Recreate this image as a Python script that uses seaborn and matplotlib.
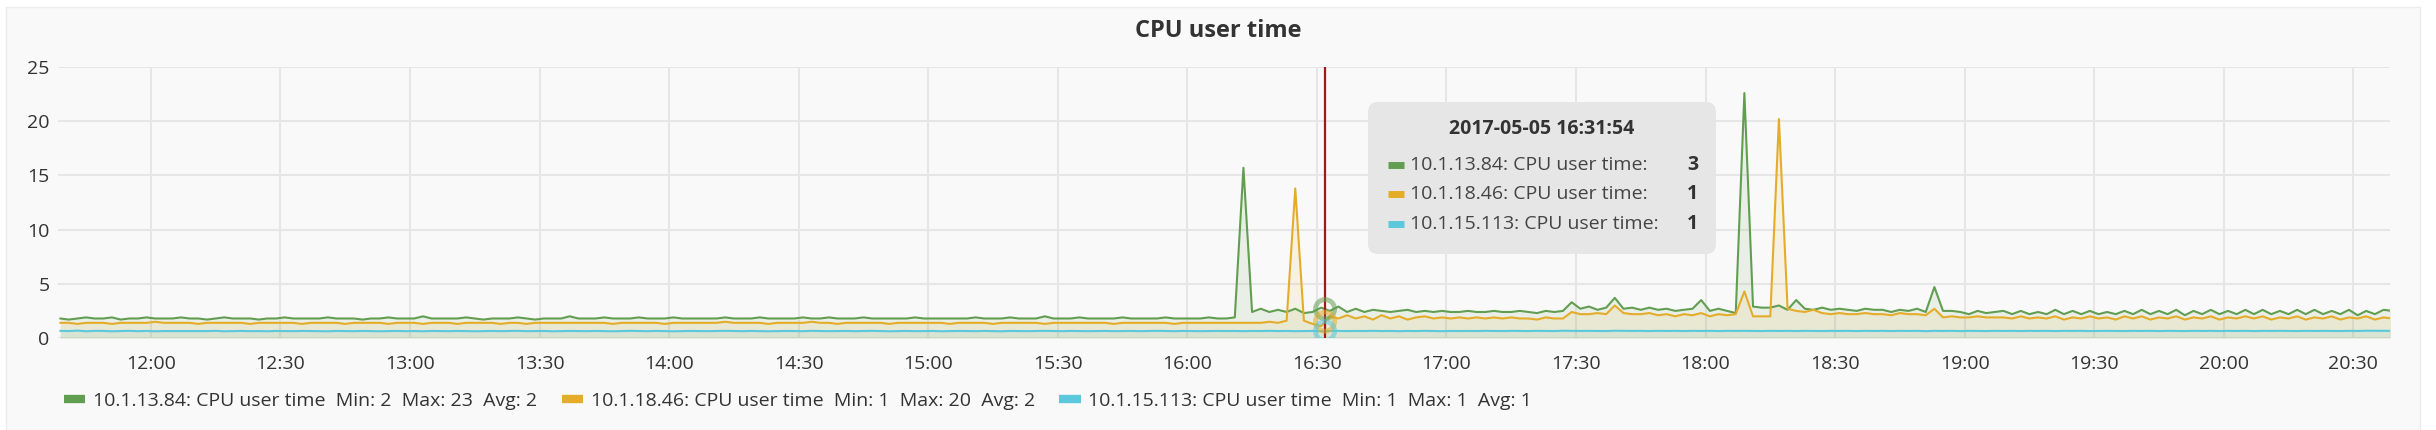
import matplotlib
matplotlib.use('Agg')
import numpy as np
import pandas as pd
import matplotlib.pyplot as plt
import matplotlib.dates as mdates
from matplotlib.patches import FancyBboxPatch, Rectangle
from matplotlib.lines import Line2D
import seaborn as sns

sns.set_style('whitegrid')
plt.rcParams['font.family'] = ['Open Sans', 'DejaVu Sans']

# --- data (one sample every 2 minutes, starting 11:39) ---
start_time = '2017-05-05 11:39'
hover_time = '2017-05-05 16:31:54'

series_names = ['10.1.13.84: CPU user time', '10.1.18.46: CPU user time', '10.1.15.113: CPU user time']
legend_labels = ['10.1.13.84: CPU user time  Min: 2  Max: 23  Avg: 2',
                 '10.1.18.46: CPU user time  Min: 1  Max: 20  Avg: 2',
                 '10.1.15.113: CPU user time  Min: 1  Max: 1  Avg: 1']
tooltip_values = ['3', '1', '1']
colors = ['#629e51', '#e5ac2a', '#5bc8dc']

green = [
    1.8, 1.7, 1.8, 1.9, 1.8, 1.8, 1.9, 1.7, 1.8, 1.8, 1.9, 1.8, 1.8, 1.8, 1.9,
    1.8, 1.8, 1.7, 1.8, 1.9, 1.8, 1.8, 1.8, 1.7, 1.8, 1.8, 1.9, 1.8, 1.8, 1.8,
    1.8, 1.9, 1.8, 1.8, 1.8, 1.7, 1.8, 1.8, 1.9, 1.8, 1.8, 1.8, 2.0, 1.8, 1.8,
    1.8, 1.8, 1.9, 1.8, 1.7, 1.8, 1.8, 1.8, 1.9, 1.8, 1.7, 1.8, 1.8, 1.8, 2.0,
    1.8, 1.8, 1.8, 1.9, 1.8, 1.8, 1.8, 1.9, 1.8, 1.8, 1.8, 1.9, 1.8, 1.8, 1.8,
    1.8, 1.8, 1.9, 1.8, 1.8, 1.8, 1.9, 1.8, 1.8, 1.8, 1.8, 1.9, 1.8, 1.8, 1.9,
    1.8, 1.8, 1.8, 1.9, 1.8, 1.8, 1.8, 1.8, 1.8, 1.9, 1.8, 1.8, 1.8, 1.8, 1.8,
    1.8, 1.9, 1.8, 1.8, 1.8, 1.9, 1.8, 1.8, 1.8, 2.0, 1.8, 1.8, 1.8, 1.9, 1.8,
    1.8, 1.8, 1.8, 1.9, 1.8, 1.8, 1.8, 1.8, 1.9, 1.8, 1.8, 1.8, 1.8, 1.9, 1.8,
    1.8, 1.9, 15.7, 2.4, 2.7, 2.4, 2.6, 2.4, 2.7, 2.3, 2.4, 2.8, 2.5, 2.9, 2.4,
    2.7, 2.4, 2.6, 2.5, 2.4, 2.5, 2.6, 2.4, 2.5, 2.4, 2.5, 2.4, 2.4, 2.5, 2.4,
    2.4, 2.5, 2.4, 2.4, 2.5, 2.4, 2.3, 2.5, 2.4, 2.5, 3.3, 2.7, 2.9, 2.6, 2.8,
    3.7, 2.7, 2.8, 2.6, 2.8, 2.6, 2.7, 2.5, 2.6, 2.7, 3.5, 2.5, 2.7, 2.5, 2.3,
    22.6, 2.9, 2.8, 2.8, 3.0, 2.6, 3.5, 2.7, 2.6, 2.8, 2.6, 2.7, 2.6, 2.5, 2.7,
    2.6, 2.6, 2.4, 2.6, 2.5, 2.7, 2.4, 4.7, 2.5, 2.5, 2.4, 2.2, 2.5, 2.3, 2.4,
    2.5, 2.2, 2.5, 2.2, 2.4, 2.2, 2.6, 2.2, 2.5, 2.2, 2.5, 2.2, 2.4, 2.2, 2.5,
    2.2, 2.6, 2.2, 2.5, 2.2, 2.6, 2.1, 2.5, 2.2, 2.6, 2.2, 2.5, 2.2, 2.6, 2.2,
    2.6, 2.2, 2.5, 2.2, 2.6, 2.2, 2.6, 2.2, 2.5, 2.2, 2.6, 2.1, 2.5, 2.2, 2.6,
    2.5,
]

orange = [
    1.4, 1.4, 1.3, 1.4, 1.4, 1.4, 1.3, 1.4, 1.4, 1.4, 1.4, 1.5, 1.4, 1.4, 1.4,
    1.4, 1.3, 1.4, 1.4, 1.4, 1.4, 1.4, 1.3, 1.4, 1.4, 1.4, 1.4, 1.4, 1.3, 1.4,
    1.4, 1.4, 1.4, 1.3, 1.4, 1.4, 1.4, 1.4, 1.3, 1.4, 1.4, 1.4, 1.3, 1.4, 1.4,
    1.4, 1.3, 1.4, 1.4, 1.4, 1.4, 1.3, 1.4, 1.4, 1.3, 1.4, 1.4, 1.4, 1.4, 1.4,
    1.4, 1.4, 1.4, 1.4, 1.3, 1.4, 1.4, 1.4, 1.4, 1.4, 1.3, 1.4, 1.4, 1.4, 1.4,
    1.4, 1.4, 1.5, 1.4, 1.4, 1.4, 1.4, 1.3, 1.4, 1.4, 1.4, 1.4, 1.5, 1.4, 1.4,
    1.3, 1.4, 1.4, 1.4, 1.4, 1.4, 1.3, 1.4, 1.4, 1.4, 1.4, 1.4, 1.4, 1.3, 1.4,
    1.4, 1.4, 1.4, 1.3, 1.4, 1.4, 1.4, 1.4, 1.4, 1.3, 1.4, 1.4, 1.4, 1.4, 1.4,
    1.4, 1.4, 1.3, 1.4, 1.4, 1.4, 1.4, 1.4, 1.4, 1.3, 1.4, 1.4, 1.4, 1.4, 1.4,
    1.4, 1.4, 1.4, 1.4, 1.4, 1.5, 1.4, 1.6, 13.8, 1.6, 1.3, 1.1, 2.0, 1.8, 2.1,
    1.8, 2.0, 1.7, 2.1, 1.8, 2.0, 1.7, 1.9, 2.0, 1.8, 1.9, 1.8, 1.9, 1.8, 1.9,
    1.8, 1.9, 1.8, 1.9, 1.8, 1.8, 1.7, 1.9, 1.8, 1.8, 2.4, 2.2, 2.2, 2.3, 2.2,
    3.0, 2.3, 2.2, 2.2, 2.3, 2.1, 2.2, 2.0, 2.2, 2.1, 2.3, 2.0, 2.2, 2.1, 2.2,
    4.3, 2.0, 2.0, 2.0, 20.2, 2.7, 2.5, 2.4, 2.6, 2.3, 2.2, 2.3, 2.2, 2.2, 2.3,
    2.2, 2.2, 2.1, 2.3, 2.2, 2.2, 2.1, 2.7, 1.9, 2.0, 1.9, 1.9, 2.0, 1.9, 1.9,
    1.9, 1.8, 2.0, 1.8, 1.9, 1.8, 2.0, 1.7, 1.9, 1.8, 2.0, 1.8, 1.9, 1.7, 2.0,
    1.8, 2.0, 1.7, 1.9, 1.8, 2.0, 1.7, 1.9, 1.8, 2.0, 1.7, 1.9, 1.8, 2.0, 1.8,
    2.0, 1.7, 1.9, 1.8, 2.0, 1.7, 1.9, 1.8, 2.0, 1.7, 1.9, 1.8, 2.0, 1.7, 1.9,
    1.8,
]

cyan = [
    0.66, 0.64, 0.68, 0.62, 0.66, 0.65, 0.62, 0.64, 0.66, 0.63, 0.65, 0.62, 0.64, 0.64, 0.63,
    0.65, 0.63, 0.64, 0.66, 0.62, 0.64, 0.65, 0.63, 0.64, 0.62, 0.65, 0.64, 0.63, 0.65, 0.64,
    0.64, 0.62, 0.65, 0.64, 0.63, 0.65, 0.64, 0.62, 0.64, 0.65, 0.63, 0.64, 0.62, 0.65, 0.64,
    0.63, 0.65, 0.64, 0.62, 0.64, 0.65, 0.63, 0.64, 0.66, 0.63, 0.64, 0.65, 0.62, 0.64, 0.65,
    0.64, 0.63, 0.65, 0.64, 0.62, 0.64, 0.66, 0.64, 0.63, 0.65, 0.64, 0.62, 0.64, 0.65, 0.64,
    0.63, 0.64, 0.66, 0.64, 0.63, 0.65, 0.64, 0.62, 0.64, 0.65, 0.64, 0.63, 0.66, 0.64, 0.63,
    0.64, 0.65, 0.63, 0.64, 0.66, 0.64, 0.62, 0.64, 0.65, 0.63, 0.64, 0.65, 0.62, 0.64, 0.65,
    0.64, 0.63, 0.65, 0.64, 0.62, 0.65, 0.64, 0.63, 0.64, 0.66, 0.64, 0.63, 0.65, 0.64, 0.63,
    0.64, 0.65, 0.63, 0.64, 0.65, 0.63, 0.64, 0.66, 0.64, 0.63, 0.65, 0.64, 0.63, 0.64, 0.65,
    0.64, 0.65, 0.63, 0.65, 0.64, 0.66, 0.64, 0.65, 0.63, 0.64, 0.65, 0.62, 0.66, 0.65, 0.64,
    0.65, 0.64, 0.66, 0.64, 0.65, 0.63, 0.65, 0.64, 0.66, 0.65, 0.63, 0.65, 0.64, 0.65, 0.64,
    0.66, 0.65, 0.64, 0.66, 0.65, 0.64, 0.66, 0.65, 0.64, 0.67, 0.66, 0.65, 0.66, 0.65, 0.64,
    0.67, 0.66, 0.65, 0.66, 0.64, 0.66, 0.65, 0.66, 0.64, 0.66, 0.65, 0.66, 0.64, 0.66, 0.65,
    0.66, 0.65, 0.64, 0.66, 0.65, 0.66, 0.64, 0.66, 0.65, 0.64, 0.66, 0.65, 0.66, 0.64, 0.66,
    0.65, 0.66, 0.64, 0.66, 0.65, 0.66, 0.63, 0.66, 0.65, 0.66, 0.64, 0.66, 0.65, 0.64, 0.66,
    0.65, 0.66, 0.64, 0.66, 0.65, 0.66, 0.64, 0.66, 0.65, 0.66, 0.64, 0.65, 0.66, 0.65, 0.64,
    0.66, 0.65, 0.66, 0.64, 0.66, 0.65, 0.64, 0.66, 0.65, 0.66, 0.64, 0.66, 0.65, 0.66, 0.64,
    0.66, 0.65, 0.66, 0.65, 0.64, 0.66, 0.65, 0.66, 0.65, 0.64, 0.66, 0.65, 0.67, 0.66, 0.66,
    0.66,
]

times = pd.date_range(start_time, periods=len(green), freq='2min')
values = [green, orange, cyan]

df = pd.concat([pd.DataFrame({'time': times, 'value': v, 'series': n})
                for n, v in zip(series_names, values)], ignore_index=True)

# --- figure ---
W, H = 2436, 430
fig = plt.figure(figsize=(W / 100, H / 100), dpi=100, facecolor='white')

# panel background
fig.patches.append(Rectangle((6 / W, 0), (2420 - 6) / W, (H - 7) / H, transform=fig.transFigure,
                             facecolor='#f9f9f9', edgecolor='#ececec', lw=1, zorder=-5))

ax = fig.add_axes([58 / W, 1 - 338 / H, (2390 - 58) / W, (338 - 67) / H])
ax.set_zorder(1)
ax.set_facecolor('#f9f9f9')

sns.lineplot(data=df, x='time', y='value', hue='series', palette=colors,
             linewidth=1.5, legend=False, ax=ax, zorder=3)
for v, c in zip(values, colors):
    ax.fill_between(times, v, color=c, alpha=0.1, lw=0, zorder=2)

ax.set_ylim(0, 25)
ax.set_yticks([0, 5, 10, 15, 20, 25])
ax.set_xlim(pd.Timestamp('2017-05-05 11:38:30'), pd.Timestamp('2017-05-05 20:38:30'))
ax.xaxis.set_major_locator(mdates.MinuteLocator(byminute=[0, 30]))
ax.xaxis.set_major_formatter(mdates.DateFormatter('%H:%M'))
ax.grid(True, color='#e6e6e6', lw=1.5)
ax.set_axisbelow(True)
for s in ax.spines.values():
    s.set_visible(False)
ax.tick_params(axis='both', length=0, labelsize=14, labelcolor='#333333')
ax.tick_params(axis='y', pad=6)
ax.tick_params(axis='x', pad=12)
ax.set_xlabel('')
ax.set_ylabel('')

# hover marker
ht = pd.Timestamp(hover_time)
ax.axvline(ht, color='#a8141c', lw=1.6, zorder=5)
xnum = mdates.date2num(times.to_pydatetime())
hnum = mdates.date2num(ht.to_pydatetime())
for v, c in zip(values, colors):
    ax.scatter([ht], [np.interp(hnum, xnum, v)], s=190, facecolors='none',
               edgecolors=c, linewidths=3.5, alpha=0.55, zorder=6)

# title
fig.text(1218 / W, 1 - 31 / H, 'CPU user time', ha='center', va='center',
         fontsize=17, fontweight='bold', color='#333333')

# tooltip (inch coordinates)
tr = fig.dpi_scale_trans
fig.patches.append(FancyBboxPatch((13.68, 1.76), 3.48, 1.52, boxstyle='round,pad=0,rounding_size=0.1',
                                  transform=tr, facecolor='#e6e6e6', edgecolor='none', zorder=10))
fig.text(15.42, 3.01, hover_time[:19], transform=tr, ha='center', va='center',
         fontsize=14, fontweight='bold', color='#333333', zorder=11)
for i, (n, c, tv) in enumerate(zip(series_names, colors, tooltip_values)):
    yy = [2.65, 2.36, 2.06][i]
    fig.lines.append(Line2D([13.88, 14.04], [yy, yy], transform=tr, color=c, lw=5,
                            solid_capstyle='butt', zorder=11))
    fig.text(14.10, yy, n + ':', transform=tr, ha='left', va='center',
             fontsize=14, color='#444444', zorder=11)
    fig.text(16.98, yy, tv, transform=tr, ha='right', va='center',
             fontsize=14, fontweight='bold', color='#333333', zorder=11)

# legend
handles = [Line2D([0], [0], color=c, lw=6, solid_capstyle='butt') for c in colors]
fig.legend(handles, legend_labels, loc='center left', bbox_to_anchor=(64 / W, 1 - 401 / H),
           ncol=3, frameon=False, handlelength=1.1, handletextpad=0.4, columnspacing=1.25,
           fontsize=14, labelcolor='#333333', borderaxespad=0, borderpad=0)

fig.savefig('out.png', dpi=100, facecolor='white')
